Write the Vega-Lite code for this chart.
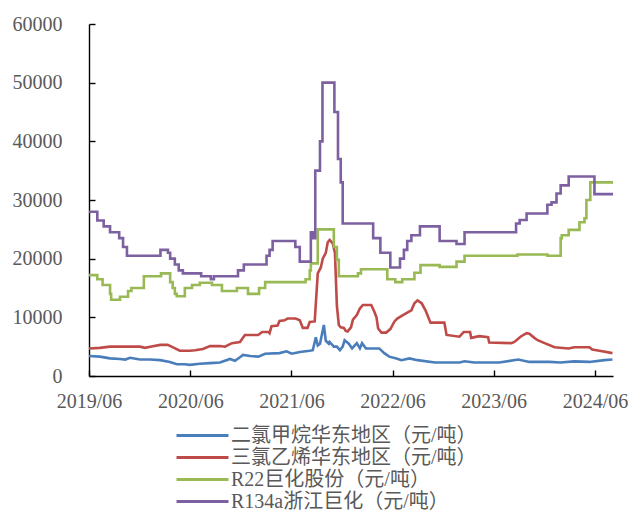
{
  "$schema": "https://vega.github.io/schema/vega-lite/v6.json",
  "autosize": {"type": "none"},
  "padding": {"left": 89, "top": 24, "right": 21, "bottom": 138},
  "width": 524,
  "height": 352,
  "background": "white",
  "config": {
    "view": {"stroke": null},
    "axis": {
      "labelFont": "Liberation Serif",
      "labelFontSize": 20,
      "labelColor": "#595959",
      "domainColor": "#000000",
      "domainWidth": 1.4,
      "tickColor": "#000000",
      "tickWidth": 1.4,
      "tickSize": -6,
      "grid": false,
      "title": null
    }
  },
  "datasets": {
    "prices": [
      {"date": "2019-06-01", "series": "二氯甲烷华东地区（元/吨）", "value": 3400},
      {"date": "2019-07-10", "series": "二氯甲烷华东地区（元/吨）", "value": 3300},
      {"date": "2019-08-16", "series": "二氯甲烷华东地区（元/吨）", "value": 3000},
      {"date": "2019-09-21", "series": "二氯甲烷华东地区（元/吨）", "value": 2900},
      {"date": "2019-10-10", "series": "二氯甲烷华东地区（元/吨）", "value": 2800},
      {"date": "2019-10-27", "series": "二氯甲烷华东地区（元/吨）", "value": 3100},
      {"date": "2019-12-02", "series": "二氯甲烷华东地区（元/吨）", "value": 2800},
      {"date": "2020-01-08", "series": "二氯甲烷华东地区（元/吨）", "value": 2800},
      {"date": "2020-02-13", "series": "二氯甲烷华东地区（元/吨）", "value": 2700},
      {"date": "2020-03-19", "series": "二氯甲烷华东地区（元/吨）", "value": 2400},
      {"date": "2020-04-13", "series": "二氯甲烷华东地区（元/吨）", "value": 2000},
      {"date": "2020-05-12", "series": "二氯甲烷华东地区（元/吨）", "value": 2000},
      {"date": "2020-05-30", "series": "二氯甲烷华东地区（元/吨）", "value": 1900},
      {"date": "2020-07-05", "series": "二氯甲烷华东地区（元/吨）", "value": 2100},
      {"date": "2020-08-11", "series": "二氯甲烷华东地区（元/吨）", "value": 2200},
      {"date": "2020-09-16", "series": "二氯甲烷华东地区（元/吨）", "value": 2300},
      {"date": "2020-10-22", "series": "二氯甲烷华东地区（元/吨）", "value": 2900},
      {"date": "2020-11-09", "series": "二氯甲烷华东地区（元/吨）", "value": 2600},
      {"date": "2020-11-27", "series": "二氯甲烷华东地区（元/吨）", "value": 3200},
      {"date": "2020-12-08", "series": "二氯甲烷华东地区（元/吨）", "value": 3600},
      {"date": "2021-01-03", "series": "二氯甲烷华东地区（元/吨）", "value": 3400},
      {"date": "2021-02-01", "series": "二氯甲烷华东地区（元/吨）", "value": 3300},
      {"date": "2021-02-26", "series": "二氯甲烷华东地区（元/吨）", "value": 3800},
      {"date": "2021-04-19", "series": "二氯甲烷华东地区（元/吨）", "value": 3900},
      {"date": "2021-05-14", "series": "二氯甲烷华东地区（元/吨）", "value": 4200},
      {"date": "2021-06-02", "series": "二氯甲烷华东地区（元/吨）", "value": 3800},
      {"date": "2021-07-01", "series": "二氯甲烷华东地区（元/吨）", "value": 4100},
      {"date": "2021-08-06", "series": "二氯甲烷华东地区（元/吨）", "value": 4300},
      {"date": "2021-08-17", "series": "二氯甲烷华东地区（元/吨）", "value": 4400},
      {"date": "2021-08-28", "series": "二氯甲烷华东地区（元/吨）", "value": 6600},
      {"date": "2021-09-04", "series": "二氯甲烷华东地区（元/吨）", "value": 5200},
      {"date": "2021-09-12", "series": "二氯甲烷华东地区（元/吨）", "value": 5500},
      {"date": "2021-09-26", "series": "二氯甲烷华东地区（元/吨）", "value": 8700},
      {"date": "2021-10-03", "series": "二氯甲烷华东地区（元/吨）", "value": 6000},
      {"date": "2021-10-14", "series": "二氯甲烷华东地区（元/吨）", "value": 5500},
      {"date": "2021-10-17", "series": "二氯甲烷华东地区（元/吨）", "value": 5800},
      {"date": "2021-11-01", "series": "二氯甲烷华东地区（元/吨）", "value": 5000},
      {"date": "2021-11-12", "series": "二氯甲烷华东地区（元/吨）", "value": 5000},
      {"date": "2021-11-23", "series": "二氯甲烷华东地区（元/吨）", "value": 4400},
      {"date": "2021-12-03", "series": "二氯甲烷华东地区（元/吨）", "value": 5000},
      {"date": "2021-12-10", "series": "二氯甲烷华东地区（元/吨）", "value": 6100},
      {"date": "2021-12-25", "series": "二氯甲烷华东地区（元/吨）", "value": 5500},
      {"date": "2022-01-06", "series": "二氯甲烷华东地区（元/吨）", "value": 4700},
      {"date": "2022-01-23", "series": "二氯甲烷华东地区（元/吨）", "value": 5600},
      {"date": "2022-02-03", "series": "二氯甲烷华东地区（元/吨）", "value": 4700},
      {"date": "2022-02-11", "series": "二氯甲烷华东地区（元/吨）", "value": 5600},
      {"date": "2022-02-25", "series": "二氯甲烷华东地区（元/吨）", "value": 4700},
      {"date": "2022-04-14", "series": "二氯甲烷华东地区（元/吨）", "value": 4700},
      {"date": "2022-05-02", "series": "二氯甲烷华东地区（元/吨）", "value": 3900},
      {"date": "2022-05-20", "series": "二氯甲烷华东地区（元/吨）", "value": 3300},
      {"date": "2022-06-15", "series": "二氯甲烷华东地区（元/吨）", "value": 3000},
      {"date": "2022-07-03", "series": "二氯甲烷华东地区（元/吨）", "value": 2700},
      {"date": "2022-08-01", "series": "二氯甲烷华东地区（元/吨）", "value": 3000},
      {"date": "2022-08-30", "series": "二氯甲烷华东地区（元/吨）", "value": 2700},
      {"date": "2022-11-01", "series": "二氯甲烷华东地区（元/吨）", "value": 2300},
      {"date": "2023-01-29", "series": "二氯甲烷华东地区（元/吨）", "value": 2300},
      {"date": "2023-02-16", "series": "二氯甲烷华东地区（元/吨）", "value": 2500},
      {"date": "2023-03-23", "series": "二氯甲烷华东地区（元/吨）", "value": 2300},
      {"date": "2023-06-21", "series": "二氯甲烷华东地区（元/吨）", "value": 2300},
      {"date": "2023-08-29", "series": "二氯甲烷华东地区（元/吨）", "value": 2800},
      {"date": "2023-10-08", "series": "二氯甲烷华东地区（元/吨）", "value": 2400},
      {"date": "2023-12-19", "series": "二氯甲烷华东地区（元/吨）", "value": 2400},
      {"date": "2024-01-29", "series": "二氯甲烷华东地区（元/吨）", "value": 2300},
      {"date": "2024-03-18", "series": "二氯甲烷华东地区（元/吨）", "value": 2500},
      {"date": "2024-05-12", "series": "二氯甲烷华东地区（元/吨）", "value": 2400},
      {"date": "2024-07-05", "series": "二氯甲烷华东地区（元/吨）", "value": 2700},
      {"date": "2024-08-03", "series": "二氯甲烷华东地区（元/吨）", "value": 2800},

      {"date": "2019-06-01", "series": "三氯乙烯华东地区（元/吨）", "value": 4700},
      {"date": "2019-07-10", "series": "三氯乙烯华东地区（元/吨）", "value": 4800},
      {"date": "2019-08-16", "series": "三氯乙烯华东地区（元/吨）", "value": 5000},
      {"date": "2019-12-02", "series": "三氯乙烯华东地区（元/吨）", "value": 5000},
      {"date": "2019-12-20", "series": "三氯乙烯华东地区（元/吨）", "value": 4800},
      {"date": "2020-01-08", "series": "三氯乙烯华东地区（元/吨）", "value": 5000},
      {"date": "2020-02-13", "series": "三氯乙烯华东地区（元/吨）", "value": 5300},
      {"date": "2020-03-11", "series": "三氯乙烯华东地区（元/吨）", "value": 5300},
      {"date": "2020-03-25", "series": "三氯乙烯华东地区（元/吨）", "value": 5000},
      {"date": "2020-04-24", "series": "三氯乙烯华东地区（元/吨）", "value": 4300},
      {"date": "2020-05-30", "series": "三氯乙烯华东地区（元/吨）", "value": 4300},
      {"date": "2020-06-18", "series": "三氯乙烯华东地区（元/吨）", "value": 4400},
      {"date": "2020-07-16", "series": "三氯乙烯华东地区（元/吨）", "value": 4600},
      {"date": "2020-08-11", "series": "三氯乙烯华东地区（元/吨）", "value": 5100},
      {"date": "2020-09-16", "series": "三氯乙烯华东地区（元/吨）", "value": 5100},
      {"date": "2020-10-04", "series": "三氯乙烯华东地区（元/吨）", "value": 5000},
      {"date": "2020-10-29", "series": "三氯乙烯华东地区（元/吨）", "value": 5600},
      {"date": "2020-11-27", "series": "三氯乙烯华东地区（元/吨）", "value": 5800},
      {"date": "2020-12-15", "series": "三氯乙烯华东地区（元/吨）", "value": 7000},
      {"date": "2021-02-01", "series": "三氯乙烯华东地区（元/吨）", "value": 7000},
      {"date": "2021-02-15", "series": "三氯乙烯华东地区（元/吨）", "value": 7500},
      {"date": "2021-03-10", "series": "三氯乙烯华东地区（元/吨）", "value": 7500},
      {"date": "2021-03-14", "series": "三氯乙烯华东地区（元/吨）", "value": 7300},
      {"date": "2021-03-21", "series": "三氯乙烯华东地区（元/吨）", "value": 8500},
      {"date": "2021-04-12", "series": "三氯乙烯华东地区（元/吨）", "value": 8600},
      {"date": "2021-04-19", "series": "三氯乙烯华东地区（元/吨）", "value": 9400},
      {"date": "2021-05-07", "series": "三氯乙烯华东地区（元/吨）", "value": 9500},
      {"date": "2021-05-18", "series": "三氯乙烯华东地区（元/吨）", "value": 9800},
      {"date": "2021-06-16", "series": "三氯乙烯华东地区（元/吨）", "value": 9800},
      {"date": "2021-07-01", "series": "三氯乙烯华东地区（元/吨）", "value": 9500},
      {"date": "2021-07-12", "series": "三氯乙烯华东地区（元/吨）", "value": 8200},
      {"date": "2021-07-29", "series": "三氯乙烯华东地区（元/吨）", "value": 8200},
      {"date": "2021-08-06", "series": "三氯乙烯华东地区（元/吨）", "value": 9200},
      {"date": "2021-08-24", "series": "三氯乙烯华东地区（元/吨）", "value": 9300},
      {"date": "2021-09-04", "series": "三氯乙烯华东地区（元/吨）", "value": 17500},
      {"date": "2021-09-15", "series": "三氯乙烯华东地区（元/吨）", "value": 18500},
      {"date": "2021-09-22", "series": "三氯乙烯华东地区（元/吨）", "value": 20000},
      {"date": "2021-10-03", "series": "三氯乙烯华东地区（元/吨）", "value": 21000},
      {"date": "2021-10-10", "series": "三氯乙烯华东地区（元/吨）", "value": 22800},
      {"date": "2021-10-17", "series": "三氯乙烯华东地区（元/吨）", "value": 23200},
      {"date": "2021-10-28", "series": "三氯乙烯华东地区（元/吨）", "value": 22600},
      {"date": "2021-11-05", "series": "三氯乙烯华东地区（元/吨）", "value": 21000},
      {"date": "2021-11-12", "series": "三氯乙烯华东地区（元/吨）", "value": 12000},
      {"date": "2021-11-19", "series": "三氯乙烯华东地区（元/吨）", "value": 8700},
      {"date": "2021-11-26", "series": "三氯乙烯华东地区（元/吨）", "value": 8300},
      {"date": "2021-12-07", "series": "三氯乙烯华东地区（元/吨）", "value": 8200},
      {"date": "2021-12-14", "series": "三氯乙烯华东地区（元/吨）", "value": 7700},
      {"date": "2021-12-21", "series": "三氯乙烯华东地区（元/吨）", "value": 7600},
      {"date": "2022-01-02", "series": "三氯乙烯华东地区（元/吨）", "value": 8300},
      {"date": "2022-01-09", "series": "三氯乙烯华东地区（元/吨）", "value": 9600},
      {"date": "2022-01-23", "series": "三氯乙烯华东地区（元/吨）", "value": 10400},
      {"date": "2022-02-03", "series": "三氯乙烯华东地区（元/吨）", "value": 11500},
      {"date": "2022-02-14", "series": "三氯乙烯华东地区（元/吨）", "value": 12100},
      {"date": "2022-03-16", "series": "三氯乙烯华东地区（元/吨）", "value": 12100},
      {"date": "2022-03-27", "series": "三氯乙烯华东地区（元/吨）", "value": 11000},
      {"date": "2022-04-04", "series": "三氯乙烯华东地区（元/吨）", "value": 10000},
      {"date": "2022-04-10", "series": "三氯乙烯华东地区（元/吨）", "value": 8100},
      {"date": "2022-04-22", "series": "三氯乙烯华东地区（元/吨）", "value": 7400},
      {"date": "2022-05-09", "series": "三氯乙烯华东地区（元/吨）", "value": 7400},
      {"date": "2022-05-24", "series": "三氯乙烯华东地区（元/吨）", "value": 8000},
      {"date": "2022-06-08", "series": "三氯乙烯华东地区（元/吨）", "value": 9300},
      {"date": "2022-06-18", "series": "三氯乙烯华东地区（元/吨）", "value": 9800},
      {"date": "2022-07-13", "series": "三氯乙烯华东地区（元/吨）", "value": 10500},
      {"date": "2022-08-08", "series": "三氯乙烯华东地区（元/吨）", "value": 11200},
      {"date": "2022-08-19", "series": "三氯乙烯华东地区（元/吨）", "value": 12400},
      {"date": "2022-08-30", "series": "三氯乙烯华东地区（元/吨）", "value": 12900},
      {"date": "2022-09-14", "series": "三氯乙烯华东地区（元/吨）", "value": 12400},
      {"date": "2022-09-28", "series": "三氯乙烯华东地区（元/吨）", "value": 11200},
      {"date": "2022-10-16", "series": "三氯乙烯华东地区（元/吨）", "value": 9100},
      {"date": "2022-12-05", "series": "三氯乙烯华东地区（元/吨）", "value": 9100},
      {"date": "2022-12-13", "series": "三氯乙烯华东地区（元/吨）", "value": 7000},
      {"date": "2023-01-29", "series": "三氯乙烯华东地区（元/吨）", "value": 6700},
      {"date": "2023-02-13", "series": "三氯乙烯华东地区（元/吨）", "value": 7500},
      {"date": "2023-03-08", "series": "三氯乙烯华东地区（元/吨）", "value": 7500},
      {"date": "2023-03-12", "series": "三氯乙烯华东地区（元/吨）", "value": 6500},
      {"date": "2023-04-10", "series": "三氯乙烯华东地区（元/吨）", "value": 6800},
      {"date": "2023-05-12", "series": "三氯乙烯华东地区（元/吨）", "value": 6600},
      {"date": "2023-05-16", "series": "三氯乙烯华东地区（元/吨）", "value": 5700},
      {"date": "2023-08-04", "series": "三氯乙烯华东地区（元/吨）", "value": 5600},
      {"date": "2023-08-15", "series": "三氯乙烯华东地区（元/吨）", "value": 5800},
      {"date": "2023-09-06", "series": "三氯乙烯华东地区（元/吨）", "value": 6700},
      {"date": "2023-09-28", "series": "三氯乙烯华东地区（元/吨）", "value": 7300},
      {"date": "2023-10-08", "series": "三氯乙烯华东地区（元/吨）", "value": 7200},
      {"date": "2023-10-26", "series": "三氯乙烯华东地区（元/吨）", "value": 6500},
      {"date": "2023-11-07", "series": "三氯乙烯华东地区（元/吨）", "value": 6100},
      {"date": "2023-12-02", "series": "三氯乙烯华东地区（元/吨）", "value": 5600},
      {"date": "2024-01-07", "series": "三氯乙烯华东地区（元/吨）", "value": 4900},
      {"date": "2024-02-27", "series": "三氯乙烯华东地区（元/吨）", "value": 4700},
      {"date": "2024-03-18", "series": "三氯乙烯华东地区（元/吨）", "value": 4900},
      {"date": "2024-05-12", "series": "三氯乙烯华东地区（元/吨）", "value": 4900},
      {"date": "2024-05-22", "series": "三氯乙烯华东地区（元/吨）", "value": 4500},
      {"date": "2024-06-17", "series": "三氯乙烯华东地区（元/吨）", "value": 4300},
      {"date": "2024-08-03", "series": "三氯乙烯华东地区（元/吨）", "value": 3900},

      {"date": "2019-06-01", "series": "R22巨化股份（元/吨）", "value": 17200},
      {"date": "2019-07-01", "series": "R22巨化股份（元/吨）", "value": 16500},
      {"date": "2019-07-20", "series": "R22巨化股份（元/吨）", "value": 15500},
      {"date": "2019-08-16", "series": "R22巨化股份（元/吨）", "value": 14000},
      {"date": "2019-08-20", "series": "R22巨化股份（元/吨）", "value": 13000},
      {"date": "2019-09-21", "series": "R22巨化股份（元/吨）", "value": 13500},
      {"date": "2019-10-20", "series": "R22巨化股份（元/吨）", "value": 14500},
      {"date": "2019-11-01", "series": "R22巨化股份（元/吨）", "value": 15000},
      {"date": "2019-12-16", "series": "R22巨化股份（元/吨）", "value": 17000},
      {"date": "2020-02-16", "series": "R22巨化股份（元/吨）", "value": 17500},
      {"date": "2020-03-20", "series": "R22巨化股份（元/吨）", "value": 16000},
      {"date": "2020-03-29", "series": "R22巨化股份（元/吨）", "value": 15000},
      {"date": "2020-04-06", "series": "R22巨化股份（元/吨）", "value": 14000},
      {"date": "2020-04-13", "series": "R22巨化股份（元/吨）", "value": 13600},
      {"date": "2020-05-12", "series": "R22巨化股份（元/吨）", "value": 15000},
      {"date": "2020-06-07", "series": "R22巨化股份（元/吨）", "value": 15500},
      {"date": "2020-07-05", "series": "R22巨化股份（元/吨）", "value": 15900},
      {"date": "2020-08-18", "series": "R22巨化股份（元/吨）", "value": 15500},
      {"date": "2020-09-23", "series": "R22巨化股份（元/吨）", "value": 14500},
      {"date": "2020-11-16", "series": "R22巨化股份（元/吨）", "value": 15000},
      {"date": "2020-12-26", "series": "R22巨化股份（元/吨）", "value": 14000},
      {"date": "2021-02-04", "series": "R22巨化股份（元/吨）", "value": 15000},
      {"date": "2021-02-26", "series": "R22巨化股份（元/吨）", "value": 16000},
      {"date": "2021-07-22", "series": "R22巨化股份（元/吨）", "value": 16500},
      {"date": "2021-08-06", "series": "R22巨化股份（元/吨）", "value": 18000},
      {"date": "2021-08-10", "series": "R22巨化股份（元/吨）", "value": 19200},
      {"date": "2021-09-04", "series": "R22巨化股份（元/吨）", "value": 25000},
      {"date": "2021-11-01", "series": "R22巨化股份（元/吨）", "value": 22000},
      {"date": "2021-11-12", "series": "R22巨化股份（元/吨）", "value": 19800},
      {"date": "2021-11-19", "series": "R22巨化股份（元/吨）", "value": 17000},
      {"date": "2022-01-27", "series": "R22巨化股份（元/吨）", "value": 17500},
      {"date": "2022-02-07", "series": "R22巨化股份（元/吨）", "value": 18200},
      {"date": "2022-05-13", "series": "R22巨化股份（元/吨）", "value": 16500},
      {"date": "2022-06-11", "series": "R22巨化股份（元/吨）", "value": 16000},
      {"date": "2022-07-06", "series": "R22巨化股份（元/吨）", "value": 16500},
      {"date": "2022-08-19", "series": "R22巨化股份（元/吨）", "value": 17600},
      {"date": "2022-09-10", "series": "R22巨化股份（元/吨）", "value": 18900},
      {"date": "2022-11-18", "series": "R22巨化股份（元/吨）", "value": 18600},
      {"date": "2023-01-18", "series": "R22巨化股份（元/吨）", "value": 19500},
      {"date": "2023-02-16", "series": "R22巨化股份（元/吨）", "value": 20500},
      {"date": "2023-08-26", "series": "R22巨化股份（元/吨）", "value": 20700},
      {"date": "2023-12-12", "series": "R22巨化股份（元/吨）", "value": 20500},
      {"date": "2024-01-29", "series": "R22巨化股份（元/吨）", "value": 23500},
      {"date": "2024-02-02", "series": "R22巨化股份（元/吨）", "value": 24000},
      {"date": "2024-02-27", "series": "R22巨化股份（元/吨）", "value": 24900},
      {"date": "2024-04-06", "series": "R22巨化股份（元/吨）", "value": 26200},
      {"date": "2024-04-24", "series": "R22巨化股份（元/吨）", "value": 26900},
      {"date": "2024-05-01", "series": "R22巨化股份（元/吨）", "value": 30000},
      {"date": "2024-05-15", "series": "R22巨化股份（元/吨）", "value": 33000},
      {"date": "2024-08-05", "series": "R22巨化股份（元/吨）", "value": 33000},

      {"date": "2019-06-01", "series": "R134a浙江巨化（元/吨）", "value": 28000},
      {"date": "2019-07-01", "series": "R134a浙江巨化（元/吨）", "value": 26500},
      {"date": "2019-07-24", "series": "R134a浙江巨化（元/吨）", "value": 25500},
      {"date": "2019-08-16", "series": "R134a浙江巨化（元/吨）", "value": 24500},
      {"date": "2019-09-18", "series": "R134a浙江巨化（元/吨）", "value": 23500},
      {"date": "2019-10-02", "series": "R134a浙江巨化（元/吨）", "value": 22000},
      {"date": "2019-10-16", "series": "R134a浙江巨化（元/吨）", "value": 20500},
      {"date": "2020-02-14", "series": "R134a浙江巨化（元/吨）", "value": 21500},
      {"date": "2020-03-12", "series": "R134a浙江巨化（元/吨）", "value": 21000},
      {"date": "2020-03-20", "series": "R134a浙江巨化（元/吨）", "value": 20000},
      {"date": "2020-04-06", "series": "R134a浙江巨化（元/吨）", "value": 19000},
      {"date": "2020-04-20", "series": "R134a浙江巨化（元/吨）", "value": 18000},
      {"date": "2020-05-05", "series": "R134a浙江巨化（元/吨）", "value": 17500},
      {"date": "2020-07-10", "series": "R134a浙江巨化（元/吨）", "value": 17000},
      {"date": "2020-08-14", "series": "R134a浙江巨化（元/吨）", "value": 16500},
      {"date": "2020-08-25", "series": "R134a浙江巨化（元/吨）", "value": 17000},
      {"date": "2020-11-20", "series": "R134a浙江巨化（元/吨）", "value": 18000},
      {"date": "2020-12-11", "series": "R134a浙江巨化（元/吨）", "value": 19000},
      {"date": "2021-03-03", "series": "R134a浙江巨化（元/吨）", "value": 20500},
      {"date": "2021-03-14", "series": "R134a浙江巨化（元/吨）", "value": 21500},
      {"date": "2021-03-25", "series": "R134a浙江巨化（元/吨）", "value": 23000},
      {"date": "2021-06-15", "series": "R134a浙江巨化（元/吨）", "value": 22000},
      {"date": "2021-07-01", "series": "R134a浙江巨化（元/吨）", "value": 19500},
      {"date": "2021-08-10", "series": "R134a浙江巨化（元/吨）", "value": 24500},
      {"date": "2021-08-17", "series": "R134a浙江巨化（元/吨）", "value": 23500},
      {"date": "2021-08-26", "series": "R134a浙江巨化（元/吨）", "value": 35000},
      {"date": "2021-09-12", "series": "R134a浙江巨化（元/吨）", "value": 40000},
      {"date": "2021-09-21", "series": "R134a浙江巨化（元/吨）", "value": 50000},
      {"date": "2021-11-03", "series": "R134a浙江巨化（元/吨）", "value": 45000},
      {"date": "2021-11-16", "series": "R134a浙江巨化（元/吨）", "value": 37000},
      {"date": "2021-11-26", "series": "R134a浙江巨化（元/吨）", "value": 33000},
      {"date": "2021-12-03", "series": "R134a浙江巨化（元/吨）", "value": 26000},
      {"date": "2022-03-23", "series": "R134a浙江巨化（元/吨）", "value": 23500},
      {"date": "2022-04-18", "series": "R134a浙江巨化（元/吨）", "value": 21000},
      {"date": "2022-05-24", "series": "R134a浙江巨化（元/吨）", "value": 18500},
      {"date": "2022-06-28", "series": "R134a浙江巨化（元/吨）", "value": 20000},
      {"date": "2022-07-12", "series": "R134a浙江巨化（元/吨）", "value": 21500},
      {"date": "2022-07-24", "series": "R134a浙江巨化（元/吨）", "value": 23000},
      {"date": "2022-08-08", "series": "R134a浙江巨化（元/吨）", "value": 24000},
      {"date": "2022-09-08", "series": "R134a浙江巨化（元/吨）", "value": 25500},
      {"date": "2022-11-18", "series": "R134a浙江巨化（元/吨）", "value": 23000},
      {"date": "2023-01-18", "series": "R134a浙江巨化（元/吨）", "value": 22500},
      {"date": "2023-02-16", "series": "R134a浙江巨化（元/吨）", "value": 24500},
      {"date": "2023-08-21", "series": "R134a浙江巨化（元/吨）", "value": 26000},
      {"date": "2023-09-03", "series": "R134a浙江巨化（元/吨）", "value": 26600},
      {"date": "2023-09-28", "series": "R134a浙江巨化（元/吨）", "value": 27700},
      {"date": "2023-12-12", "series": "R134a浙江巨化（元/吨）", "value": 29200},
      {"date": "2023-12-27", "series": "R134a浙江巨化（元/吨）", "value": 29600},
      {"date": "2024-01-14", "series": "R134a浙江巨化（元/吨）", "value": 31100},
      {"date": "2024-01-29", "series": "R134a浙江巨化（元/吨）", "value": 32500},
      {"date": "2024-02-27", "series": "R134a浙江巨化（元/吨）", "value": 34000},
      {"date": "2024-05-30", "series": "R134a浙江巨化（元/吨）", "value": 31000},
      {"date": "2024-08-05", "series": "R134a浙江巨化（元/吨）", "value": 31000}
    ]
  },
  "data": {"name": "prices"},
  "encoding": {
    "x": {
      "field": "date",
      "type": "temporal",
      "scale": {"domain": [{"year": 2019, "month": 6, "date": 1}, {"year": 2024, "month": 8, "date": 5}]},
      "axis": {
        "values": [
          {"year": 2019, "month": 6, "date": 1},
          {"year": 2020, "month": 6, "date": 1},
          {"year": 2021, "month": 6, "date": 1},
          {"year": 2022, "month": 6, "date": 1},
          {"year": 2023, "month": 6, "date": 1},
          {"year": 2024, "month": 6, "date": 1}
        ],
        "format": "%Y/%m",
        "labelFlush": false,
        "labelOverlap": false,
        "labelPadding": 21
      }
    },
    "y": {
      "field": "value",
      "type": "quantitative",
      "scale": {"domain": [0, 60000], "nice": false},
      "axis": {
        "values": [0, 10000, 20000, 30000, 40000, 50000, 60000],
        "format": "d",
        "labelPadding": 33
      }
    },
    "color": {
      "field": "series",
      "type": "nominal",
      "scale": {
        "domain": ["二氯甲烷华东地区（元/吨）", "三氯乙烯华东地区（元/吨）", "R22巨化股份（元/吨）", "R134a浙江巨化（元/吨）"],
        "range": ["#4a7ebb", "#be4b48", "#98b954", "#7d60a0"]
      },
      "legend": {
        "orient": "none",
        "legendX": 102,
        "legendY": 400,
        "direction": "vertical",
        "title": null,
        "symbolType": "M-2.6,0H2.6",
        "symbolSize": 400,
        "symbolStrokeWidth": 3,
        "labelFont": "Liberation Serif, Noto Sans CJK SC",
        "labelFontSize": 20,
        "labelColor": "#595959",
        "labelOffset": 17,
        "labelLimit": 400,
        "rowPadding": 0,
        "padding": 0
      }
    }
  },
  "layer": [
    {
      "transform": [{"filter": {"field": "series", "oneOf": ["二氯甲烷华东地区（元/吨）", "三氯乙烯华东地区（元/吨）"]}}],
      "mark": {"type": "line", "strokeWidth": 2.6, "interpolate": "linear"}
    },
    {
      "transform": [{"filter": {"field": "series", "oneOf": ["R22巨化股份（元/吨）", "R134a浙江巨化（元/吨）"]}}],
      "mark": {"type": "line", "strokeWidth": 2.6, "interpolate": "step-after"}
    }
  ]
}
